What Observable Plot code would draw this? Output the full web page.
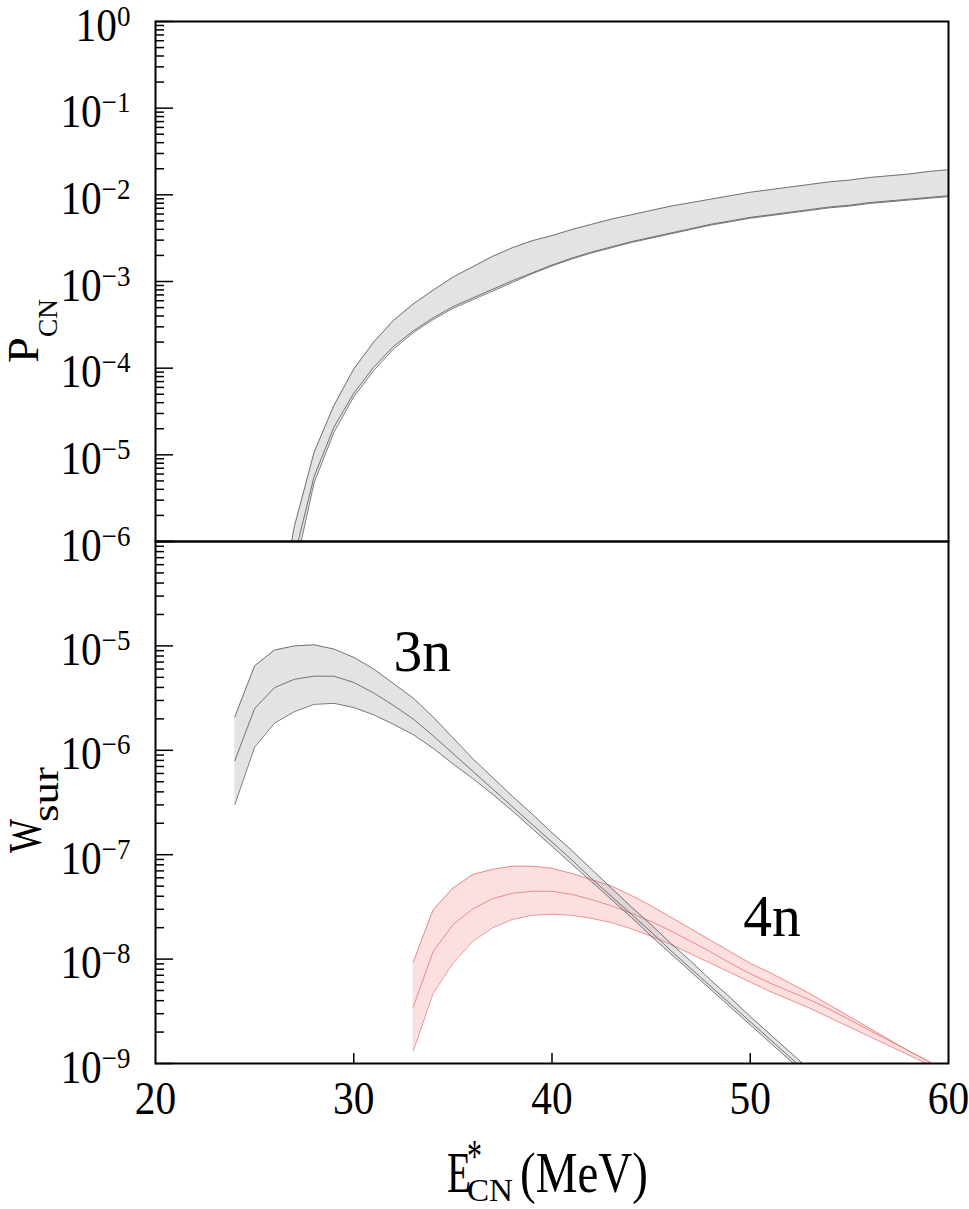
<!DOCTYPE html>
<html><head><meta charset="utf-8">
<script src="https://cdn.jsdelivr.net/npm/d3@7"></script>
<script src="https://cdn.jsdelivr.net/npm/@observablehq/plot@0.6"></script>
<style>
body{margin:0;background:#fff;}
#wrap{position:relative;width:969px;height:1209px;overflow:hidden;}
#wrap svg{position:absolute;left:0;overflow:visible;}
</style></head><body><div id="wrap"></div>
<script>
// ---------- data (log10 values) ----------
const energyTop = [26,27,28,29,30,31,32,33,34,35,36,37,38,39,40,41,42,43,44,45,46,47,48,49,50,51,52,53,54,55,56,57,58,59,60];
const pcnUpper = [-7.10,-5.83,-4.97,-4.43,-4.01,-3.70,-3.45,-3.26,-3.10,-2.95,-2.83,-2.71,-2.61,-2.53,-2.47,-2.40,-2.34,-2.28,-2.23,-2.18,-2.13,-2.09,-2.05,-2.01,-1.97,-1.94,-1.91,-1.88,-1.85,-1.83,-1.80,-1.78,-1.76,-1.73,-1.71];
const pcnMid   = [-7.60,-6.18,-5.25,-4.68,-4.29,-3.99,-3.75,-3.57,-3.42,-3.29,-3.19,-3.09,-2.99,-2.90,-2.81,-2.73,-2.66,-2.60,-2.54,-2.49,-2.44,-2.39,-2.34,-2.30,-2.26,-2.23,-2.20,-2.17,-2.14,-2.12,-2.09,-2.07,-2.05,-2.03,-2.01];
const pcnLower = [-7.70,-6.36,-5.32,-4.74,-4.33,-4.03,-3.78,-3.59,-3.44,-3.31,-3.21,-3.11,-3.01,-2.91,-2.82,-2.74,-2.67,-2.61,-2.55,-2.50,-2.45,-2.40,-2.35,-2.31,-2.27,-2.24,-2.21,-2.18,-2.15,-2.13,-2.10,-2.08,-2.06,-2.04,-2.02];

const energy3n = [24,25,26,27,28,29,30,31,32,33,34,35,36,37,38,39,40,41,42,43,44,45,46,47,48,49,50,51,52,53];
const w3nUpper = [-5.68,-5.19,-5.04,-5.00,-4.99,-5.03,-5.11,-5.22,-5.36,-5.50,-5.68,-5.88,-6.08,-6.26,-6.44,-6.61,-6.79,-6.96,-7.14,-7.32,-7.50,-7.67,-7.85,-8.02,-8.20,-8.37,-8.55,-8.72,-8.89,-9.06];
const w3nMid   = [-6.10,-5.60,-5.40,-5.32,-5.29,-5.29,-5.35,-5.45,-5.57,-5.70,-5.86,-6.03,-6.20,-6.37,-6.54,-6.71,-6.88,-7.05,-7.23,-7.40,-7.57,-7.74,-7.92,-8.09,-8.26,-8.43,-8.60,-8.77,-8.94,-9.11];
const w3nLower = [-6.52,-5.97,-5.74,-5.63,-5.56,-5.55,-5.59,-5.66,-5.75,-5.85,-5.98,-6.13,-6.27,-6.42,-6.58,-6.75,-6.92,-7.09,-7.26,-7.43,-7.60,-7.78,-7.95,-8.12,-8.29,-8.46,-8.63,-8.80,-8.97,-9.14];

const energy4n = [33,34,35,36,37,38,39,40,41,42,43,44,45,46,47,48,49,50,51,52,53,54,55,56,57,58,59,60];
const w4nUpper = [-8.03,-7.53,-7.32,-7.19,-7.14,-7.11,-7.11,-7.13,-7.18,-7.24,-7.30,-7.39,-7.49,-7.60,-7.71,-7.82,-7.93,-8.04,-8.13,-8.23,-8.33,-8.44,-8.55,-8.66,-8.77,-8.88,-8.98,-9.09];
const w4nMid   = [-8.46,-7.93,-7.67,-7.52,-7.42,-7.37,-7.35,-7.35,-7.38,-7.43,-7.49,-7.56,-7.64,-7.73,-7.83,-7.93,-8.04,-8.14,-8.23,-8.31,-8.39,-8.48,-8.58,-8.68,-8.78,-8.88,-8.98,-9.09];
const w4nLower = [-8.88,-8.33,-8.04,-7.83,-7.70,-7.62,-7.58,-7.57,-7.58,-7.61,-7.65,-7.71,-7.78,-7.86,-7.95,-8.04,-8.13,-8.22,-8.31,-8.39,-8.47,-8.56,-8.65,-8.74,-8.83,-8.92,-9.01,-9.10];

const xTickLabels = [20,30,40,50,60];
const xInnerTicks = [30,40,50];
const topExponents = [0,-1,-2,-3,-4,-5,-6];
const bottomLabelExponents = [-5,-6,-7,-8,-9];
const bottomExponents = [-4,-5,-6,-7,-8,-9];
const minorMultipliers = [2,3,4,5,6,7,8,9];

// ---------- helpers ----------
const FONT = "'Liberation Serif','DejaVu Serif',serif";
const ns = "http://www.w3.org/2000/svg";
const rows = (E, hi, mid, lo) => E.map((e, i) => ({E: e, hi: 10 ** hi[i], mid: 10 ** mid[i], lo: 10 ** lo[i]}));
const minorOf = exps => exps.flatMap(e => minorMultipliers.map(m => m * 10 ** e));
const expText = e => "10|" + (e === 0 ? "0" : "\u2212" + (-e));

const topRows = rows(energyTop, pcnUpper, pcnMid, pcnLower);
const rows3n = rows(energy3n, w3nUpper, w3nMid, w3nLower);
const rows4n = rows(energy4n, w4nUpper, w4nMid, w4nLower);

const W = 969, ML = 155, MR = 21;
const frameW = W - ML - MR;
const common = {width: W, marginLeft: ML, marginRight: MR,
  style: {background: "transparent", overflow: "visible", fontFamily: FONT}};

const band = (data, fill, op) => [
  Plot.areaY(data, {x: "E", y1: "lo", y2: "hi", fill, fillOpacity: op, clip: true}),
];
const bandLines = (data, stroke) => ["hi", "mid", "lo"].map(k =>
  Plot.line(data, {x: "E", y: k, stroke, strokeWidth: 0.8, clip: true}));

const yLabels = exps => Plot.text(exps, {y: e => 10 ** e, frameAnchor: "left", text: expText,
  textAnchor: "end", lineAnchor: "bottom", dx: -25, dy: 19, fontSize: 46, fontFamily: FONT, fill: "black"});

const topPlot = Plot.plot({...common, height: 541, marginTop: 21, marginBottom: 0,
  x: {domain: [20, 60], axis: null},
  y: {type: "log", domain: [1e-6, 1], axis: null},
  marks: [
    ...band(topRows, "#c8c8c8", 0.5),
    ...bandLines(topRows, "#555"),
    Plot.tickY(topExponents.map(e => 10 ** e), {insetRight: frameW - 18, stroke: "black", strokeWidth: 1.5}),
    Plot.tickY(minorOf([-6,-5,-4,-3,-2,-1]), {insetRight: frameW - 9, stroke: "black", strokeWidth: 1.5}),
    Plot.frame({stroke: "black", strokeWidth: 2}),
    yLabels(topExponents)
  ]
});

const botPlot = Plot.plot({...common, height: 668, marginTop: 0, marginBottom: 146,
  x: {domain: [20, 60], axis: null},
  y: {type: "log", domain: [1e-9, 1e-4], axis: null},
  marks: [
    ...band(rows4n, "#f7a0a0", 0.32),
    ...band(rows3n, "#c8c8c8", 0.5),
    ...bandLines(rows4n, "#e57373"),
    ...bandLines(rows3n, "#555"),
    Plot.tickY(bottomExponents.map(e => 10 ** e), {insetRight: frameW - 18, stroke: "black", strokeWidth: 1.5}),
    Plot.tickY(minorOf([-9,-8,-7,-6,-5]), {insetRight: frameW - 9, stroke: "black", strokeWidth: 1.5}),
    Plot.tickX(xInnerTicks, {insetTop: 522 - 10, stroke: "black", strokeWidth: 1.5}),
    Plot.frame({stroke: "black", strokeWidth: 2}),
    yLabels(bottomLabelExponents),
    Plot.text(xTickLabels, {x: d => d, frameAnchor: "bottom", text: d => String(d), lineAnchor: "bottom",
      dy: 50, fontSize: 46, fontFamily: FONT, fill: "black"}),
    Plot.text(["3n"], {x: () => 32.0, y: () => 10 ** -5.236, text: d => d, textAnchor: "start", lineAnchor: "bottom",
      fontSize: 60, fontFamily: FONT, fill: "black"}),
    Plot.text(["4n"], {x: () => 49.65, y: () => 10 ** -7.774, text: d => d, textAnchor: "start", lineAnchor: "bottom",
      fontSize: 60, fontFamily: FONT, fill: "black"})
  ]
});

topPlot.style.top = "0px";
botPlot.style.top = "541px";
const wrap = document.getElementById("wrap");
wrap.appendChild(topPlot);
wrap.appendChild(botPlot);

function squeezeEl(t, s) {
  const tr = t.getAttribute("transform");
  if (tr) t.setAttribute("transform", tr + ` scale(${s},1)`);
  else {
    const x = parseFloat(t.getAttribute("x")) || 0, y = parseFloat(t.getAttribute("y")) || 0;
    t.setAttribute("transform", `translate(${x},${y}) scale(${s},1) translate(${-x},${-y})`);
  }
}
[topPlot, botPlot].forEach(svg => {
  svg.querySelectorAll("text").forEach(t => {
    const c = t.textContent;
    if (c.includes("|")) {
      const [b, e] = c.split("|");
      t.textContent = "";
      const s1 = document.createElementNS(ns, "tspan"); s1.textContent = b; t.appendChild(s1);
      const s2 = document.createElementNS(ns, "tspan"); s2.textContent = e;
      s2.setAttribute("dy", "-15"); s2.setAttribute("font-size", "30"); t.appendChild(s2);
      squeezeEl(t, 0.9);
    } else if (/^\d+$/.test(c)) {
      squeezeEl(t, 0.9);
    } else if (/^\dn$/.test(c)) {
      squeezeEl(t, 0.96);
    }
  });
});

function addLabel(svg, {x, y, rotate = 0, text, size, length}) {
  const t = document.createElementNS(ns, "text");
  t.setAttribute("transform", `translate(${x},${y}) rotate(${rotate})`);
  t.setAttribute("font-size", size);
  t.setAttribute("font-family", FONT);
  t.setAttribute("text-anchor", "start");
  t.setAttribute("fill", "black");
  t.setAttribute("textLength", length);
  t.setAttribute("lengthAdjust", "spacingAndGlyphs");
  t.textContent = text;
  svg.appendChild(t);
}
addLabel(topPlot, {x: 38, y: 363, rotate: -90, text: "P", size: 44, length: 26});
addLabel(topPlot, {x: 57, y: 337, rotate: -90, text: "CN", size: 27, length: 38});
addLabel(botPlot, {x: 41, y: 312, rotate: -90, text: "W", size: 46, length: 34});
addLabel(botPlot, {x: 58, y: 281, rotate: -90, text: "sur", size: 38, length: 55});
addLabel(botPlot, {x: 447, y: 651, text: "E", size: 58, length: 24});
addLabel(botPlot, {x: 467, y: 631, text: "*", size: 46, length: 15});
addLabel(botPlot, {x: 467, y: 660, text: "CN", size: 32, length: 46});
addLabel(botPlot, {x: 520, y: 651, text: "(MeV)", size: 58, length: 128});
</script></body></html>
